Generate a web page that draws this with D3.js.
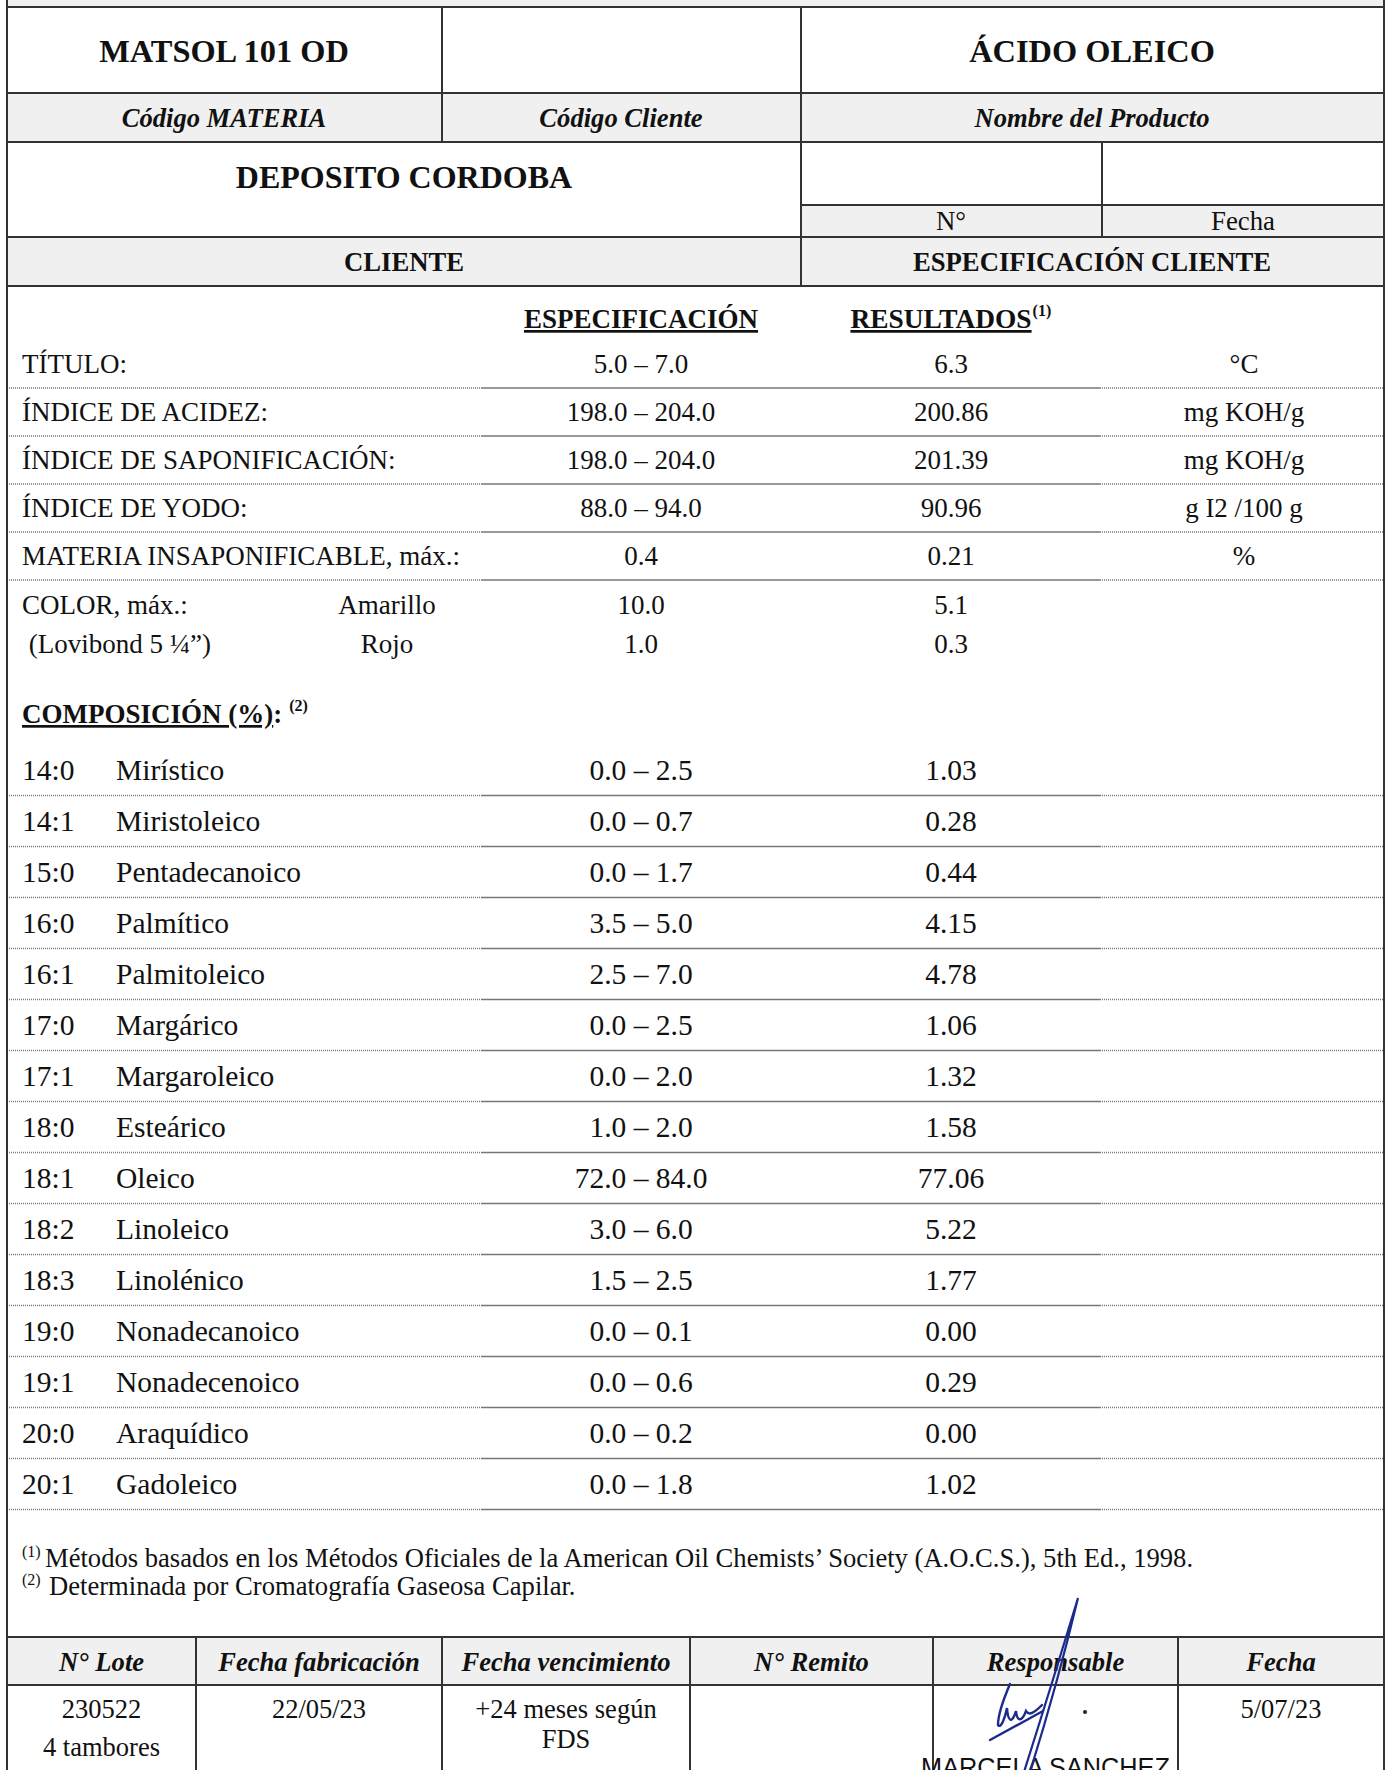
<!DOCTYPE html>
<meta charset="utf-8">
<style>
    body { margin: 0; background: #fff; }
    svg text { font-family: "Liberation Serif", "Times New Roman", serif; fill: #111; }
    .b { font-weight: bold; }
    .bi { font-weight: bold; font-style: italic; }
    .sans { font-family: "Liberation Sans", Arial, sans-serif; }
</style>
<svg class="sheet"></svg>
<script src="https://cdn.jsdelivr.net/npm/d3@7"></script>
<script>
    // header block
    var headCodes = ["MATSOL 101 OD", "", "ÁCIDO OLEICO"];
    var headCaptions = ["Código MATERIA", "Código Cliente", "Nombre del Producto"];
    var clientName = "DEPOSITO CORDOBA";
    var clientCaptions = ["N°", "Fecha"];

    // general properties
    var propLabels = ["TÍTULO:", "ÍNDICE DE ACIDEZ:", "ÍNDICE DE SAPONIFICACIÓN:", "ÍNDICE DE YODO:", "MATERIA INSAPONIFICABLE, máx.:"];
    var propSpecs = ["5.0 – 7.0", "198.0 – 204.0", "198.0 – 204.0", "88.0 – 94.0", "0.4"];
    var propResults = ["6.3", "200.86", "201.39", "90.96", "0.21"];
    var propUnits = ["°C", "mg KOH/g", "mg KOH/g", "g I2 /100 g", "%"];

    var colorLabels = ["COLOR, máx.:", " (Lovibond 5 ¼”)"];
    var colorNames = ["Amarillo", "Rojo"];
    var colorSpecs = ["10.0", "1.0"];
    var colorResults = ["5.1", "0.3"];

    // fatty acid composition
    var acidCodes = ["14:0", "14:1", "15:0", "16:0", "16:1", "17:0", "17:1", "18:0", "18:1", "18:2", "18:3", "19:0", "19:1", "20:0", "20:1"];
    var acidNames = ["Mirístico", "Miristoleico", "Pentadecanoico", "Palmítico", "Palmitoleico", "Margárico", "Margaroleico", "Esteárico", "Oleico", "Linoleico", "Linolénico", "Nonadecanoico", "Nonadecenoico", "Araquídico", "Gadoleico"];
    var acidSpecs = ["0.0 – 2.5", "0.0 – 0.7", "0.0 – 1.7", "3.5 – 5.0", "2.5 – 7.0", "0.0 – 2.5", "0.0 – 2.0", "1.0 – 2.0", "72.0 – 84.0", "3.0 – 6.0", "1.5 – 2.5", "0.0 – 0.1", "0.0 – 0.6", "0.0 – 0.2", "0.0 – 1.8"];
    var acidResults = ["1.03", "0.28", "0.44", "4.15", "4.78", "1.06", "1.32", "1.58", "77.06", "5.22", "1.77", "0.00", "0.29", "0.00", "1.02"];

    var notes = ["Métodos basados en los Métodos Oficiales de la American Oil Chemists’ Society (A.O.C.S.), 5th Ed., 1998.",
        "Determinada por Cromatografía Gaseosa Capilar."];

    // batch footer
    var lotHeaders = ["N° Lote", "Fecha fabricación", "Fecha vencimiento", "N° Remito", "Responsable", "Fecha"];
    var lotValues = [["230522", "4 tambores"], ["22/05/23"], ["+24 meses según", "FDS"], [], [], ["5/07/23"]];
    var signer = "MARCELA SANCHEZ";

    var width = 1393, height = 1770;
    var L = 7, R = 1384;
    var grey = "#f0f0f0", ink = "#333";
    var fs = 27, fsComp = 29.5;

    var svg = d3.select(".sheet").attr("width", width).attr("height", height);

    function rect(x0, y0, x1, y1, fill) {
        svg.append("rect").attr("x", x0).attr("y", y0).attr("width", x1 - x0).attr("height", y1 - y0).attr("fill", fill);
    }
    function line(x0, y0, x1, y1, w) {
        svg.append("line").attr("x1", x0).attr("y1", y0).attr("x2", x1).attr("y2", y1)
            .attr("stroke", ink).attr("stroke-width", w || 2);
    }
    function text(t, x, y, size, cls, anchor) {
        return svg.append("text").attr("x", x).attr("y", y).attr("font-size", size)
            .attr("class", cls || null).attr("text-anchor", anchor || "start").text(t);
    }
    function sep(y) {
        var g = svg.append("g").attr("stroke", "#777");
        g.append("line").attr("x1", L).attr("x2", 482).attr("y1", y).attr("y2", y).attr("stroke-dasharray", "1,1").attr("stroke-width", 1.6);
        g.append("line").attr("x1", 482).attr("x2", 1100).attr("y1", y).attr("y2", y).attr("stroke-width", 1.6);
        g.append("line").attr("x1", 1100).attr("x2", R).attr("y1", y).attr("y2", y).attr("stroke-dasharray", "1,1").attr("stroke-width", 1.6);
    }

    // ---- top block ----
    rect(L, 0, R, 7, grey);
    rect(L, 93, R, 142, grey);
    rect(801, 205, R, 237, grey);
    rect(L, 237, R, 286, grey);

    var headX = d3.scaleOrdinal().domain([0, 1, 2]).range([224, 621, 1092]);
    headCodes.forEach(function (d, i) { text(d, headX(i), 62, 32.4, "b", "middle"); });
    headCaptions.forEach(function (d, i) { text(d, headX(i), 127, 26.6, "bi", "middle"); });
    text(clientName, 404, 188, 32, "b", "middle");
    text(clientCaptions[0], 951, 230, 26.8, null, "middle");
    text(clientCaptions[1], 1243, 230, 26.8, null, "middle");
    text("CLIENTE", 404, 271, 26.7, "b", "middle");
    text("ESPECIFICACIÓN CLIENTE", 1092, 271, 26.7, "b", "middle");

    [7, 93, 142, 237, 286].forEach(function (y) { line(L, y, R, y); });
    line(801, 205, R, 205);
    line(442, 7, 442, 142);
    line(801, 7, 801, 286);
    line(1102, 142, 1102, 237);

    // ---- column heads ----
    var xLabel = 22, xSpec = 641, xRes = 951, xUnit = 1244, xName = 116, xColor = 387;
    text("ESPECIFICACIÓN", xSpec, 328, 27, "b", "middle").style("text-decoration", "underline");
    var h2 = text("RESULTADOS", xRes - 10, 328, 27.4, "b", "middle").style("text-decoration", "underline");
    var h2w = h2.node().getComputedTextLength();
    text("(1)", xRes - 10 + h2w / 2 + 1, 316, 16, "b");

    // ---- properties ----
    var yProp = d3.scaleBand().domain(propLabels).range([340, 580]);
    var propRows = svg.append("g").selectAll("g").data(propLabels).enter().append("g")
        .attr("transform", function (d) { return "translate(0," + (yProp(d) + yProp.bandwidth() / 2 + 9) + ")"; });
    propRows.append("text").attr("x", xLabel).attr("font-size", fs).text(function (d) { return d; });
    propRows.append("text").attr("x", xSpec).attr("font-size", fs).attr("text-anchor", "middle").text(function (d, i) { return propSpecs[i]; });
    propRows.append("text").attr("x", xRes).attr("font-size", fs).attr("text-anchor", "middle").text(function (d, i) { return propResults[i]; });
    propRows.append("text").attr("x", xUnit).attr("font-size", fs).attr("text-anchor", "middle").text(function (d, i) { return propUnits[i]; });
    propLabels.forEach(function (d) { sep(yProp(d) + yProp.bandwidth()); });

    var yColor = d3.scalePoint().domain(colorNames).range([614, 653]);
    colorNames.forEach(function (d, i) {
        text(colorLabels[i], xLabel, yColor(d), fs).attr("xml:space", "preserve");
        text(d, xColor, yColor(d), fs, null, "middle");
        text(colorSpecs[i], xSpec, yColor(d), fs, null, "middle");
        text(colorResults[i], xRes, yColor(d), fs, null, "middle");
    });

    // ---- composition ----
    var comp = text("COMPOSICIÓN (%)", xLabel, 723, 27, "b").style("text-decoration", "underline");
    var compW = comp.node().getComputedTextLength();
    text(":", xLabel + compW, 723, 27, "b");
    text("(2)", xLabel + compW + 16, 711, 16, "b");

    var yAcid = d3.scaleBand().domain(acidCodes).range([744.5, 1509.5]);
    var acidRows = svg.append("g").selectAll("g").data(acidCodes).enter().append("g")
        .attr("transform", function (d) { return "translate(0," + (yAcid(d) + yAcid.bandwidth() / 2 + 10) + ")"; });
    acidRows.append("text").attr("x", xLabel).attr("font-size", fsComp).text(function (d) { return d; });
    acidRows.append("text").attr("x", xName).attr("font-size", fsComp).text(function (d, i) { return acidNames[i]; });
    acidRows.append("text").attr("x", xSpec).attr("font-size", fsComp).attr("text-anchor", "middle").text(function (d, i) { return acidSpecs[i]; });
    acidRows.append("text").attr("x", xRes).attr("font-size", fsComp).attr("text-anchor", "middle").text(function (d, i) { return acidResults[i]; });
    acidCodes.forEach(function (d) { sep(yAcid(d) + yAcid.bandwidth()); });

    // ---- notes ----
    notes.forEach(function (d, i) {
        var y = 1567 + i * 28;
        text("(" + (i + 1) + ")", xLabel, y - 10, 16);
        text(d, xLabel + (i === 0 ? 23 : 27), y, 26.6);
    });

    // ---- batch table ----
    var edges = [L, 196, 442, 690, 933, 1178, R];
    rect(L, 1637, R, 1685, grey);
    lotHeaders.forEach(function (d, i) {
        var cx = (edges[i] + edges[i + 1]) / 2;
        text(d, cx, 1671, 26.6, "bi", "middle");
        lotValues[i].forEach(function (v, j) {
            var y = i === 2 ? 1718 + j * 30 : 1718 + j * 38;
            text(v, cx, y, 26.5, null, "middle");
        });
    });
    line(L, 1637, R, 1637);
    line(L, 1685, R, 1685);
    edges.slice(1, -1).forEach(function (x) { line(x, 1637, x, height); });
    text(signer, (edges[4] + edges[5]) / 2 - 10, 1776, 25.3, "sans", "middle");

    // signature
    var sig = svg.append("g").attr("fill", "none").attr("stroke", "#1c2a8c").attr("stroke-linecap", "round");
    sig.append("path").attr("stroke-width", 2.2)
        .attr("d", "M1024,1772 Q1050,1690 1078,1598 Q1058,1682 1030,1772");
    sig.append("path").attr("stroke-width", 2.4)
        .attr("d", "M1010,1684 C1004,1698 998,1714 998,1725 C1001,1729 1005,1718 1007,1708 C1008,1722 1012,1724 1016,1711 C1017,1722 1022,1722 1026,1711 C1029,1716 1034,1713 1042,1705");
    sig.append("path").attr("stroke-width", 2.4).attr("d", "M990,1740 L1043,1711");
    svg.append("circle").attr("cx", 1085).attr("cy", 1712).attr("r", 2).attr("fill", "#222");

    // page borders
    line(L, 0, L, height);
    line(R, 0, R, height);
</script>
